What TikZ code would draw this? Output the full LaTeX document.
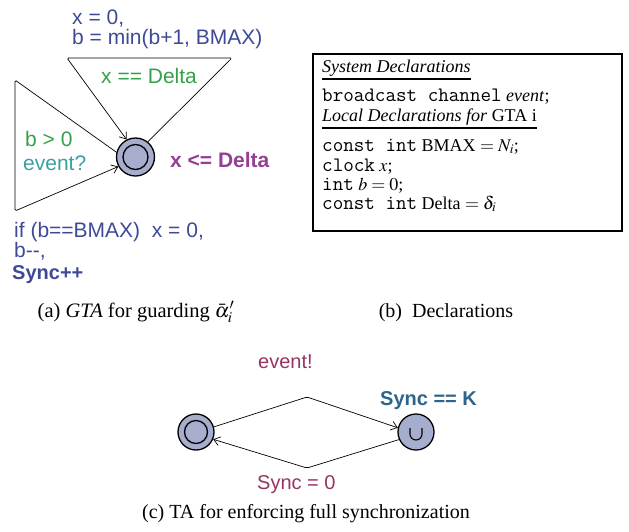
\documentclass[tikz,border=0pt]{standalone}
\usepackage{mathptmx}
\usepackage{fontspec}
\setmainfont{Liberation Serif}
\setsansfont{Liberation Sans}
\usetikzlibrary{arrows.meta}
\definecolor{assigncol}{RGB}{62,74,150}
\definecolor{guardcol}{RGB}{52,160,72}
\definecolor{synccol}{RGB}{58,160,158}
\definecolor{invcol}{RGB}{150,62,150}
\definecolor{evcol}{RGB}{150,52,100}
\definecolor{kcol}{RGB}{44,100,140}
\definecolor{statefill}{RGB}{166,173,205}
\newcommand{\mytt}[1]{{\ttfamily\fontsize{20.5}{20.5}\selectfont #1}}
\begin{document}
\begin{tikzpicture}[x=1pt,y=-1pt,
  lbl/.style={inner sep=0pt, anchor=base west, font=\sffamily\fontsize{20}{20}\selectfont},
  blbl/.style={lbl, font=\sffamily\bfseries\fontsize{20}{20}\selectfont},
  albl/.style={lbl, font=\sffamily\fontsize{21}{21}\selectfont},
  ablbl/.style={lbl, font=\sffamily\bfseries\fontsize{21}{21}\selectfont},
  decl/.style={inner sep=0pt, anchor=base west, font=\fontsize{18}{18}\selectfont},
  captxt/.style={inner sep=0pt, anchor=base, font=\fontsize{20}{20}\selectfont},
  loc/.style={circle, draw, line width=1.3pt, fill=statefill, minimum size=38pt, inner sep=0pt},
  edge/.style={draw, line width=0.7pt, rounded corners=1.5pt, -{Straight Barb[length=6pt,width=9pt,line width=0.7pt]}}]
\useasboundingbox (0,0) rectangle (629,531);

% ---------- (a) GTA ----------
\node[loc] (g) at (135.5,157) {};
\draw[line width=1.3pt] (g.center) circle[radius=12.5pt];
\coordinate (t1) at (232,58);
\coordinate (t2) at (67,58);
\draw[edge] (g.51) -- (t1) -- (t2) -- (g.117);
\coordinate (l1) at (15,80);
\coordinate (l2) at (15,211);
\draw[edge] (g.166) -- (l1) -- (l2) -- (g.209);

\node[albl, text=assigncol] (a1) at (72,24) {x = 0,};
\node[albl, text=assigncol] (a2) at (72,44) {b = min(b+1, BMAX)};
\node[albl, text=guardcol] (gd1) at (101,83) {x == Delta};
\node[albl, text=guardcol] (gd2) at (25,146) {b > 0};
\node[albl, text=synccol] (sy1) at (23,170) {event?};
\node[ablbl, text=invcol] (inv) at (170,167) {x <= Delta};
\node[albl, text=assigncol] (a3) at (14,237) {if (b==BMAX)\ \ x = 0,};
\node[albl, text=assigncol] (a4) at (14,257) {b-{}-,};
\node[blbl, text=assigncol] (a5) at (12,279) {Sync++};

% ---------- (b) Declarations ----------
\draw[line width=2pt] (313,54) rectangle (622,231);
\node[decl] (d1) at (322,72) {\textit{System Declarations}};
\draw[line width=1.4pt] ([yshift=-7pt]d1.base west) -- ([yshift=-7pt]d1.base east);
\node[decl] (d2) at (322,101) {\mytt{broadcast channel} \textit{event};};
\node[decl] (d3) at (322,121) {\textit{Local Declarations for} GTA i};
\draw[line width=1.4pt] ([yshift=-7pt]d3.base west) -- ([yshift=-7pt]d3.base east);
\node[decl] (d4) at (322,151) {\mytt{const int} BMAX $= N_i$;};
\node[decl] (d5) at (322,171) {\mytt{clock} $x$;};
\node[decl] (d6) at (322,190) {\mytt{int} $b = 0$;};
\node[decl] (d7) at (322,209) {\mytt{const int} Delta $= \delta_i$};

% ---------- captions ----------
\node[captxt, font=\fontsize{20.5}{20.5}\selectfont] (ca) at (136,317) {(a) \textit{GTA} for guarding $\bar{\alpha}'_i$};
\node[captxt] (cb) at (446,317) {(b)\ \ Declarations};

% ---------- (c) TA ----------
\node[loc, minimum size=36pt] (L) at (196,432) {};
\draw[line width=1.3pt] (L.center) circle[radius=11.5pt];
\node[loc, minimum size=36pt] (R) at (416,432) {};
\draw[line width=1.1pt] ([xshift=-6pt,yshift=4pt]R.center) -- ([xshift=-6pt,yshift=-2pt]R.center) arc[start angle=180,end angle=360,radius=6pt] -- ([xshift=6pt,yshift=4pt]R.center);
\coordinate (ua) at (307,397);
\draw[edge] (L.16) -- (ua) -- (R.167);
\coordinate (la) at (307,468);
\draw[edge] (R.204) -- (la) -- (L.337);

\node[lbl, text=evcol] (ev) at (258,368) {event!};
\node[blbl, text=kcol] (sk) at (380,405) {Sync == K};
\node[lbl, text=evcol] (s0) at (257,489) {Sync = 0};

\node[captxt] (cc) at (306,518) {(c) TA for enforcing full synchronization};
\end{tikzpicture}
\end{document}
